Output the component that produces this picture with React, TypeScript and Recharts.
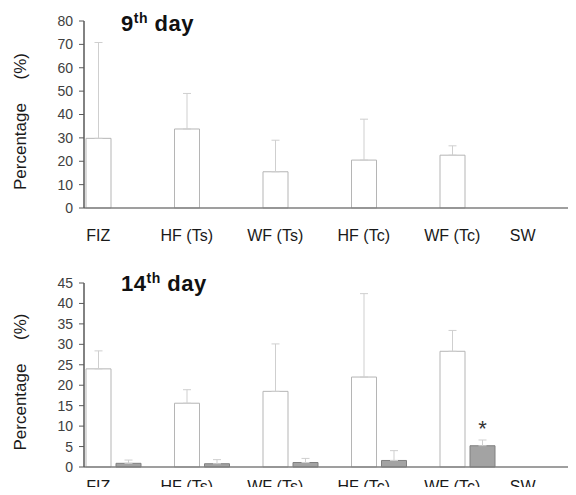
import { BarChart, Bar, XAxis, YAxis, ErrorBar, LabelList } from 'recharts'

// groups on the category axis
const categories = ['FIZ', 'HF (Ts)', 'WF (Ts)', 'HF (Tc)', 'WF (Tc)', 'SW']

// 9th day: only the first series has values
const day9Mean = [29.8, 33.8, 15.5, 20.5, 22.6, null]
const day9Sd = [41, 15.2, 13.5, 17.5, 4, null]

// 14th day: two series per group
const day14MeanA = [24, 15.6, 18.5, 22, 28.3, null]
const day14SdA = [4.4, 3.3, 11.6, 20.4, 5.1, null]
const day14MeanB = [0.9, 0.8, 1.1, 1.6, 5.2, null]
const day14SdB = [0.8, 1.0, 1.0, 2.4, 1.4, null]
const day14Marks = ['', '', '', '', '*', '']

const day9Ticks = [0, 10, 20, 30, 40, 50, 60, 70, 80]
const day14Ticks = [0, 5, 10, 15, 20, 25, 30, 35, 40, 45]

const FONT = '"Liberation Sans", Arial, sans-serif'

const upOnly = (sd: number | null) => (sd == null ? undefined : [0, sd])

const day9Data = categories.map((name, i) => ({
  name,
  a: day9Mean[i],
  sdA: upOnly(day9Sd[i]),
}))

const day14Data = categories.map((name, i) => ({
  name,
  a: day14MeanA[i],
  sdA: upOnly(day14SdA[i]),
  b: day14MeanB[i],
  sdB: upOnly(day14SdB[i]),
  mark: day14Marks[i],
}))

function CatTick({ x, y, payload, index, base }: any) {
  // labels sit under the white bar of each group
  const dx = index === categories.length - 1 ? -48 : -30
  return (
    <text x={x + dx} y={y + base} textAnchor="middle" fontSize={16} fontFamily={FONT} fill="#1a1a1a">
      {payload.value}
    </text>
  )
}

function YTitle({ viewBox }: any) {
  const cx = 20
  const cy = viewBox.y + viewBox.height / 2 + 7
  return (
    <text
      x={cx}
      y={cy}
      transform={`rotate(-90 ${cx} ${cy})`}
      textAnchor="middle"
      dominantBaseline="central"
      fontSize={17}
      fontFamily={FONT}
      fill="#1a1a1a"
      style={{ whiteSpace: 'pre' }}
    >
      {'Percentage     (%)'}
    </text>
  )
}

function Panel({ data, ticks, max, height, top, plotH, tickBase, withSecond }: any) {
  return (
    <BarChart
      width={620}
      height={height}
      data={data}
      margin={{ top, right: 5, bottom: 0, left: 0 }}
      barSize={25}
      barGap={5}
    >
      <XAxis
        dataKey="name"
        height={height - top - plotH}
        axisLine={{ stroke: '#7f7f7f', strokeWidth: 1.5 }}
        tickLine={false}
        tickSize={0}
        tickMargin={0}
        interval={0}
        tick={<CatTick base={tickBase} />}
      />
      <YAxis
        width={84}
        domain={[0, max]}
        ticks={ticks}
        interval={0}
        axisLine={{ stroke: '#595959', strokeWidth: 1.5 }}
        tickLine={{ stroke: '#595959' }}
        tickSize={5}
        tickMargin={6}
        tick={{ fontSize: 14, fontFamily: FONT, fill: '#404040' }}
        label={<YTitle />}
      />
      <Bar dataKey="a" fill="#ffffff" stroke="#b5b5b5" strokeWidth={1} isAnimationActive={false}>
        <ErrorBar dataKey="sdA" width={4} stroke="#cfcfcf" strokeWidth={1} direction="y" />
      </Bar>
      <Bar dataKey="b" fill="#a3a3a3" stroke="#808080" strokeWidth={1} isAnimationActive={false}>
        {withSecond && <ErrorBar dataKey="sdB" width={4} stroke="#cfcfcf" strokeWidth={1} direction="y" />}
        {withSecond && (
          <LabelList dataKey="mark" position="top" offset={10} fontSize={22} fontFamily={FONT} fill="#333" />
        )}
      </Bar>
      {/* empty third slot keeps the pair on the left of each group */}
      <Bar dataKey="spacer" fill="none" isAnimationActive={false} />
    </BarChart>
  )
}

function Title({ num, top }: { num: string; top: number }) {
  return (
    <div
      style={{
        position: 'absolute',
        left: 121,
        top,
        fontFamily: FONT,
        fontWeight: 'bold',
        fontSize: 22,
        lineHeight: '22px',
        letterSpacing: 0.5,
        color: '#111',
        whiteSpace: 'pre',
      }}
    >
      {num}
      <span style={{ fontSize: 14, position: 'relative', top: -8 }}>th</span>
      {' day'}
    </div>
  )
}

export default function App() {
  return (
    <div
      style={{
        position: 'relative',
        margin: -8,
        width: 576,
        height: 495,
        overflow: 'hidden',
        background: '#fff',
      }}
    >
      <div style={{ position: 'absolute', left: 0, top: 0 }}>
        <Panel
          data={day9Data}
          ticks={day9Ticks}
          max={80}
          height={250}
          top={21}
          plotH={187}
          tickBase={33}
          withSecond={false}
        />
      </div>
      <div style={{ position: 'absolute', left: 0, top: 250 }}>
        <Panel
          data={day14Data}
          ticks={day14Ticks}
          max={45}
          height={245}
          top={33}
          plotH={184}
          tickBase={25}
          withSecond
        />
      </div>
      <Title num="9" top={13} />
      <Title num="14" top={273} />
    </div>
  )
}
